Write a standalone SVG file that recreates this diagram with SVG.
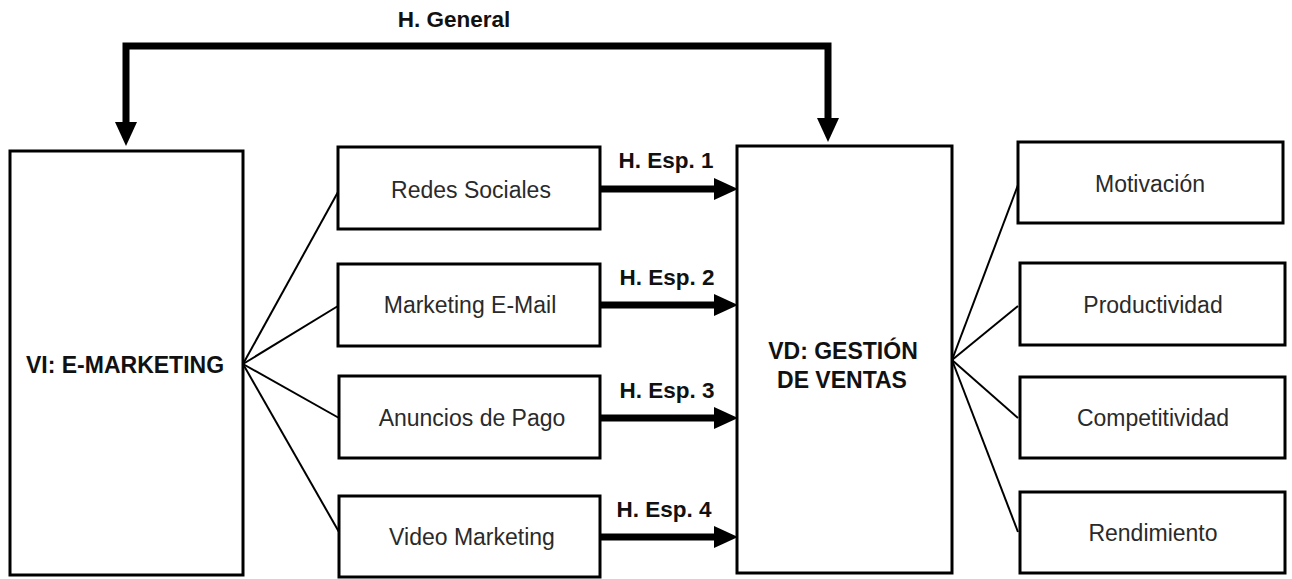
<svg xmlns="http://www.w3.org/2000/svg" width="1292" height="579" viewBox="0 0 1292 579">
  <style>
    .box { fill: #ffffff; stroke: #000000; stroke-width: 3; }
    .label { font-family: "Liberation Sans", Arial, sans-serif; font-size: 23px; fill: #2a2a2a; text-anchor: middle; }
    .title { font-family: "Liberation Sans", Arial, sans-serif; font-size: 23px; font-weight: bold; fill: #111111; text-anchor: middle; }
    .hyp { font-family: "Liberation Sans", Arial, sans-serif; font-size: 22.5px; font-weight: bold; fill: #111111; text-anchor: middle; }
    .thin { fill: none; stroke: #000000; stroke-width: 2; }
    .thick { fill: none; stroke: #000000; stroke-width: 7; }
    .head { fill: #000000; }
  </style>

  <rect width="1292" height="579" fill="#ffffff"/>

  <!-- connectors -->
  <g id="connectors">
    <!-- general hypothesis bracket -->
    <polyline class="thick" points="126,124 126,46 828,46 828,120"/>
    <polygon class="head" points="115,122 137,122 126,146"/>
    <polygon class="head" points="817,118 839,118 828,142"/>
    <text class="hyp" x="454" y="27">H. General</text>

    <!-- dimensions of the independent variable -->
    <line class="thin" x1="243" y1="364" x2="338" y2="192"/>
    <line class="thin" x1="243" y1="364" x2="338" y2="306"/>
    <line class="thin" x1="243" y1="364" x2="339" y2="418"/>
    <line class="thin" x1="243" y1="364" x2="339" y2="532"/>

    <!-- specific hypotheses -->
    <line class="thick" x1="600" y1="189" x2="716" y2="189"/>
    <polygon class="head" points="714,178 738,189 714,200"/>
    <text class="hyp" x="666" y="168">H. Esp. 1</text>

    <line class="thick" x1="600" y1="305" x2="716" y2="305"/>
    <polygon class="head" points="714,294 738,305 714,316"/>
    <text class="hyp" x="667" y="285">H. Esp. 2</text>

    <line class="thick" x1="600" y1="418" x2="716" y2="418"/>
    <polygon class="head" points="714,407 738,418 714,429"/>
    <text class="hyp" x="667" y="398">H. Esp. 3</text>

    <line class="thick" x1="600" y1="537" x2="716" y2="537"/>
    <polygon class="head" points="714,526 738,537 714,548"/>
    <text class="hyp" x="664" y="517">H. Esp. 4</text>

    <!-- dimensions of the dependent variable -->
    <line class="thin" x1="952" y1="360" x2="1018" y2="185"/>
    <line class="thin" x1="952" y1="360" x2="1018" y2="306"/>
    <line class="thin" x1="952" y1="360" x2="1018" y2="418"/>
    <line class="thin" x1="952" y1="360" x2="1018" y2="532"/>
  </g>

  <g id="vi">
    <rect class="box" x="10" y="151" width="233" height="424"/>
    <text class="title" x="125" y="373">VI: E-MARKETING</text>
  </g>

  <g id="redes">
    <rect class="box" x="338" y="147" width="262" height="82"/>
    <text class="label" x="471" y="198">Redes Sociales</text>
  </g>
  <g id="email">
    <rect class="box" x="338" y="264" width="262" height="82"/>
    <text class="label" x="470" y="313">Marketing E-Mail</text>
  </g>
  <g id="anuncios">
    <rect class="box" x="339" y="376" width="261" height="82"/>
    <text class="label" x="472" y="426">Anuncios de Pago</text>
  </g>
  <g id="video">
    <rect class="box" x="339" y="496" width="261" height="81"/>
    <text class="label" x="472" y="545">Video Marketing</text>
  </g>

  <g id="vd">
    <rect class="box" x="737" y="146" width="215" height="427"/>
    <text class="title" x="843" y="359">VD: GESTIÓN</text>
    <text class="title" x="842" y="388">DE VENTAS</text>
  </g>

  <g id="motivacion">
    <rect class="box" x="1018" y="142" width="265" height="81"/>
    <text class="label" x="1150" y="192">Motivación</text>
  </g>
  <g id="productividad">
    <rect class="box" x="1020" y="263" width="265" height="82"/>
    <text class="label" x="1153" y="313">Productividad</text>
  </g>
  <g id="competitividad">
    <rect class="box" x="1020" y="377" width="265" height="81"/>
    <text class="label" x="1153" y="426">Competitividad</text>
  </g>
  <g id="rendimiento">
    <rect class="box" x="1020" y="492" width="265" height="81"/>
    <text class="label" x="1153" y="541">Rendimiento</text>
  </g>
</svg>
